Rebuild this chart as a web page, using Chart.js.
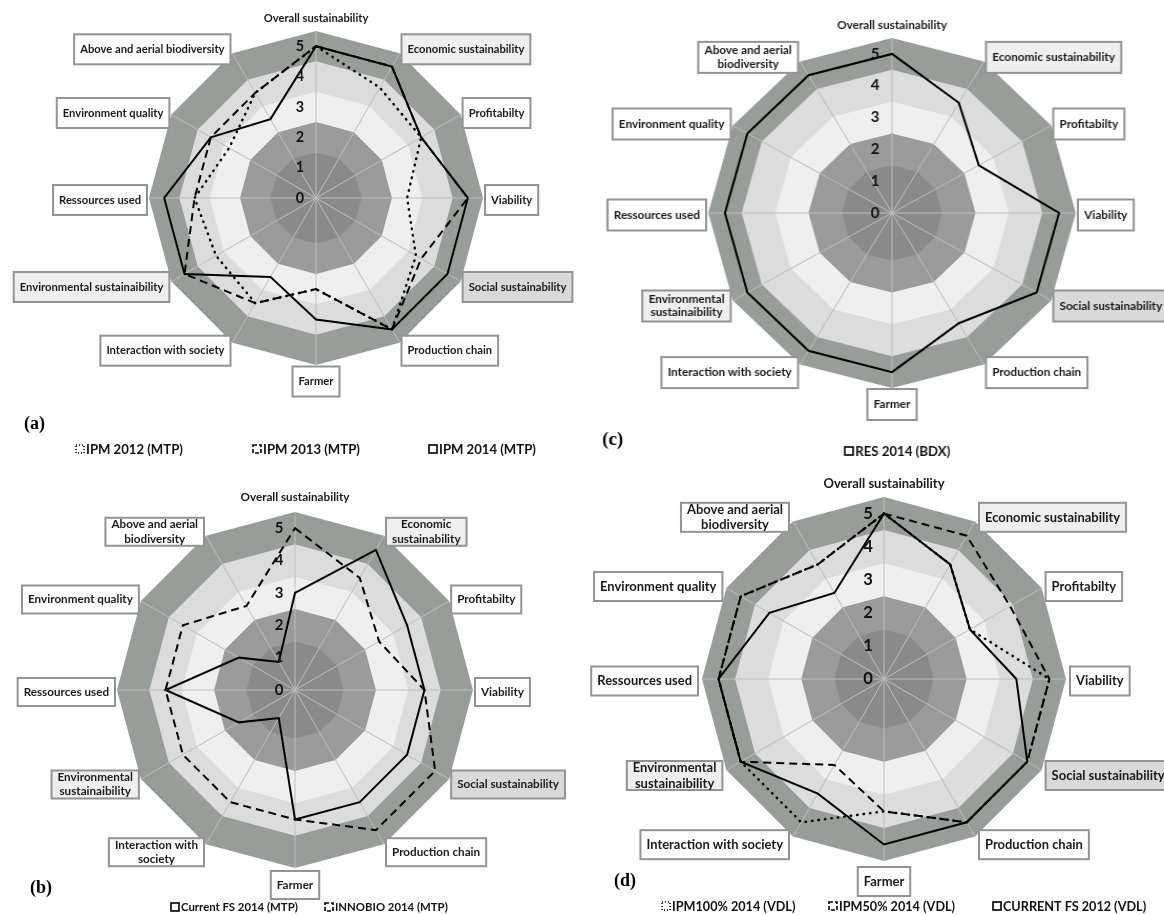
<!DOCTYPE html>
<html>
<head>
<meta charset="utf-8">
<script src="https://cdn.jsdelivr.net/npm/chart.js@4.4.1/dist/chart.umd.min.js"></script>
<style>
  html, body { margin: 0; padding: 0; background: #fff; overflow: hidden; }
  #page { position: relative; width: 1164px; height: 915px; }
  canvas { position: absolute; }
</style>
</head>
<body>
<div id="page">
  <canvas id="chartA" width="582" height="460" style="left:0;top:0;width:582px;height:460px"></canvas>
  <canvas id="chartC" width="582" height="460" style="left:582px;top:0;width:582px;height:460px;transform:scaleX(1.05);transform-origin:310px 0"></canvas>
  <canvas id="chartB" width="582" height="455" style="left:0;top:460px;width:582px;height:455px"></canvas>
  <canvas id="chartD" width="582" height="455" style="left:582px;top:460px;width:582px;height:455px"></canvas>
</div>
<script>
// axes, clockwise from the top
const categories = [
  "Overall sustainability", "Economic sustainability", "Profitabilty", "Viability",
  "Social sustainability", "Production chain", "Farmer", "Interaction with society",
  "Environmental sustainaibility", "Ressources used", "Environment quality",
  "Above and aerial biodiversity"
];
const tickValues = [0, 1, 2, 3, 4, 5];
const bandLevels = [5.5, 4.5, 3.5, 2.5, 1.5];

// (a) MTP
const ipm2012Mtp = [5, 4.2, 4, 3, 3.8, 5, 3, 4, 3.8, 4, 3.3, 4];
const ipm2013Mtp = [5, 5, 4, 5, 4, 5, 3, 4, 5, 4, 4, 4];
const ipm2014Mtp = [5, 5, 4, 5, 5, 5, 4, 3, 5, 5, 4, 3];
// (b) MTP
const currentFs2014Mtp = [3, 5, 4, 4, 4, 4, 4, 1, 2, 4, 2, 1];
const innobio2014Mtp = [5, 4, 3, 4, 5, 5, 4, 4, 4, 4, 4, 3];
// (c) BDX
const res2014Bdx = [5, 4, 3, 5, 5, 4, 5, 5, 5, 5, 5, 5];
// (d) VDL
const ipm100Vdl = [5, 4, 3, 5, 5, 5, 4, 5, 5, 5, 5, 4];
const ipm50Vdl = [5, 5, 4.4, 5, 5, 5, 4, 3, 5, 5, 5, 4];
const currentFs2012Vdl = [5, 4, 3, 4, 5, 5, 5, 4, 5, 5, 4, 3];

const bandColors = ["#989d9a", "#dcdcdc", "#efefef", "#9b9b9b", "#8a8a8a"];
const twoLine = {
  "Economic sustainability": ["Economic", "sustainability"],
  "Interaction with society": ["Interaction with", "society"],
  "Environmental sustainaibility": ["Environmental", "sustainaibility"],
  "Above and aerial biodiversity": ["Above and aerial", "biodiversity"]
};
const boxFill = {
  "Economic sustainability": "#efefef",
  "Environmental sustainaibility": "#efefef",
  "Social sustainability": "#d9d9d9"
};
const lineKinds = {
  dotted: { borderDash: [0.5, 6], borderCapStyle: "round", borderWidth: 2.5 },
  dashed: { borderDash: [8, 5], borderCapStyle: "butt", borderWidth: 2 },
  solid: { borderDash: [], borderCapStyle: "butt", borderWidth: 2 }
};
const markerDash = { dotted: [1, 2], dashed: [4, 2], solid: [] };
const FAM = 'Lato, "Open Sans", sans-serif';

// layout of each panel (canvas-local px)
const panels = {
  chartA: {
    letter: "(a)", letterX: 24, letterY: 424,
    cx: 316, cy: 198, R: 167, w: 582, h: 460,
    refWidth: 82, legendRef: 97, legendX: [76, 253, 429], legendY: 449,
    boxH: 30, gap: 2, bottomGap: 1.5, topGap: 13, wrap: [],
    series: [["IPM 2012 (MTP)", ipm2012Mtp, "dotted"], ["IPM 2013 (MTP)", ipm2013Mtp, "dashed"], ["IPM 2014 (MTP)", ipm2014Mtp, "solid"]]
  },
  chartB: {
    letter: "(b)", letterX: 30, letterY: 428,
    cx: 295, cy: 230, R: 178, w: 582, h: 455,
    refWidth: 85.5, legendRef: 117, legendX: [171, 325], legendY: 447,
    boxH: 28, gap: 2, bottomGap: 3, topGap: 15,
    wrap: ["Economic sustainability", "Interaction with society", "Environmental sustainaibility", "Above and aerial biodiversity"],
    series: [["Current FS 2014 (MTP)", currentFs2014Mtp, "solid"], ["INNOBIO 2014 (MTP)", innobio2014Mtp, "dashed"]]
  },
  chartC: {
    letter: "(c)", letterX: 34, letterY: 440,
    cx: 310, cy: 213, R: 175, w: 582, h: 460,
    refWidth: 82, legendRef: 90.5, legendX: [265], legendY: 451,
    boxH: 31, gap: 2, bottomGap: 1, topGap: 13,
    wrap: ["Environmental sustainaibility", "Above and aerial biodiversity"],
    series: [["RES 2014 (BDX)", res2014Bdx, "solid"]]
  },
  chartD: {
    letter: "(d)", letterX: 32, letterY: 421,
    cx: 302, cy: 219, R: 182, w: 582, h: 455,
    refWidth: 94.8, legendRef: 123.5, legendX: [80, 247, 411], legendY: 446,
    boxH: 29, gap: 4, bottomGap: 6, topGap: 13,
    wrap: ["Environmental sustainaibility", "Above and aerial biodiversity"],
    series: [["IPM100% 2014 (VDL)", ipm100Vdl, "dotted"], ["IPM50% 2014 (VDL)", ipm50Vdl, "dashed"], ["CURRENT FS 2012 (VDL)", currentFs2012Vdl, "solid"]]
  }
};

function fitSize(ctx, text, target) {
  ctx.font = "bold 20px " + FAM;
  return 20 * target / ctx.measureText(text).width;
}

const decorations = {
  id: "decorations",
  beforeDraw(chart) {
    // background bands, built on the radial scale
    const r = chart.scales.r, ctx = chart.ctx, n = chart.data.labels.length;
    ctx.save();
    bandLevels.forEach((lv, k) => {
      ctx.beginPath();
      for (let i = 0; i < n; i++) {
        const p = r.getPointPositionForValue(i, lv);
        if (i === 0) ctx.moveTo(p.x, p.y); else ctx.lineTo(p.x, p.y);
      }
      ctx.closePath();
      ctx.fillStyle = bandColors[k];
      ctx.fill();
    });
    ctx.restore();
  },
  afterDraw(chart) {
    const P = panels[chart.canvas.id];
    const r = chart.scales.r, ctx = chart.ctx;
    const fs = fitSize(ctx, "Ressources used", P.refWidth);
    ctx.save();
    ctx.textAlign = "center";
    ctx.textBaseline = "middle";

    // tick numbers to the left of the vertical axis
    ctx.fillStyle = "#111";
    ctx.font = "bold " + (fs * 1.28) + "px " + FAM;
    tickValues.forEach(v => {
      const p = r.getPointPositionForValue(0, v);
      ctx.fillText(String(v), p.x - 16, p.y);
    });

    // axis labels in boxes
    ctx.font = "bold " + fs + "px " + FAM;
    chart.data.labels.forEach((name, i) => {
      const v = r.getPointPositionForValue(i, r.max);
      const ang = r.getIndexAngle(i);
      const s = Math.sin(ang), c = Math.cos(ang);
      if (Math.abs(s) < 1e-6 && c > 0) {
        ctx.fillStyle = "#1a1a1a";
        ctx.fillText(name, v.x, v.y - P.topGap);
        return;
      }
      const lines = P.wrap.includes(name) ? twoLine[name] : [name];
      const tw = Math.max(...lines.map(l => ctx.measureText(l).width));
      const w = tw + 12, h = P.boxH;
      let x, y;
      if (Math.abs(s) < 1e-6) {
        x = v.x - w / 2;
        y = v.y + P.bottomGap;
      } else {
        x = s > 0 ? v.x + P.gap : v.x - P.gap - w;
        y = v.y + 2 - 7 * c - h / 2;
      }
      ctx.fillStyle = boxFill[name] || "#ffffff";
      ctx.fillRect(x, y, w, h);
      ctx.lineWidth = 2;
      ctx.strokeStyle = "#939393";
      ctx.strokeRect(x, y, w, h);
      ctx.fillStyle = "#1a1a1a";
      const lh = fs * 1.22;
      lines.forEach((l, k) => ctx.fillText(l, x + w / 2, y + h / 2 + (k - (lines.length - 1) / 2) * lh));
    });

    // legend
    const ls = fitSize(ctx, P.series[0][0], P.legendRef);
    ctx.font = "bold " + ls + "px " + FAM;
    ctx.textAlign = "left";
    chart.data.datasets.forEach((ds, k) => {
      const mx = P.legendX[k], my = P.legendY;
      ctx.strokeStyle = "#000";
      ctx.lineWidth = 1.6;
      ctx.setLineDash(markerDash[ds.kind]);
      ctx.strokeRect(mx, my - 4, 8, 8);
      ctx.setLineDash([]);
      ctx.fillStyle = "#111";
      ctx.fillText(ds.label, mx + 10, my + 0.5);
    });

    // panel letter
    ctx.font = 'bold 18px "Liberation Serif", "Times New Roman", serif';
    ctx.fillStyle = "#000";
    ctx.fillText(P.letter, P.letterX, P.letterY);
    ctx.restore();
  }
};

function makeChart(id) {
  const P = panels[id];
  const datasets = P.series.map(([label, values, kind], k) => Object.assign({
    label: label,
    kind: kind,
    data: values,
    borderColor: "#000",
    backgroundColor: "transparent",
    fill: false,
    pointRadius: 0,
    pointHitRadius: 0,
    order: P.series.length - k
  }, lineKinds[kind], kind === "solid" ? { order: 0 } : {}));

  return new Chart(document.getElementById(id).getContext("2d"), {
    type: "radar",
    data: { labels: categories, datasets: datasets },
    options: {
      responsive: false,
      animation: false,
      layout: {
        padding: {
          left: P.cx - P.R,
          right: P.w - (P.cx + P.R),
          top: P.cy - P.R,
          bottom: P.h - (P.cy + P.R)
        }
      },
      elements: { line: { tension: 0 } },
      plugins: { legend: { display: false }, tooltip: { enabled: false } },
      scales: {
        r: {
          min: 0,
          max: 5.5,
          ticks: { display: false, stepSize: 1 },
          grid: { display: false },
          angleLines: { display: true, color: "#bdbdbd", lineWidth: 1 },
          pointLabels: { display: false }
        }
      }
    },
    plugins: [decorations]
  });
}

["chartA", "chartB", "chartC", "chartD"].forEach(makeChart);
</script>
</body>
</html>
